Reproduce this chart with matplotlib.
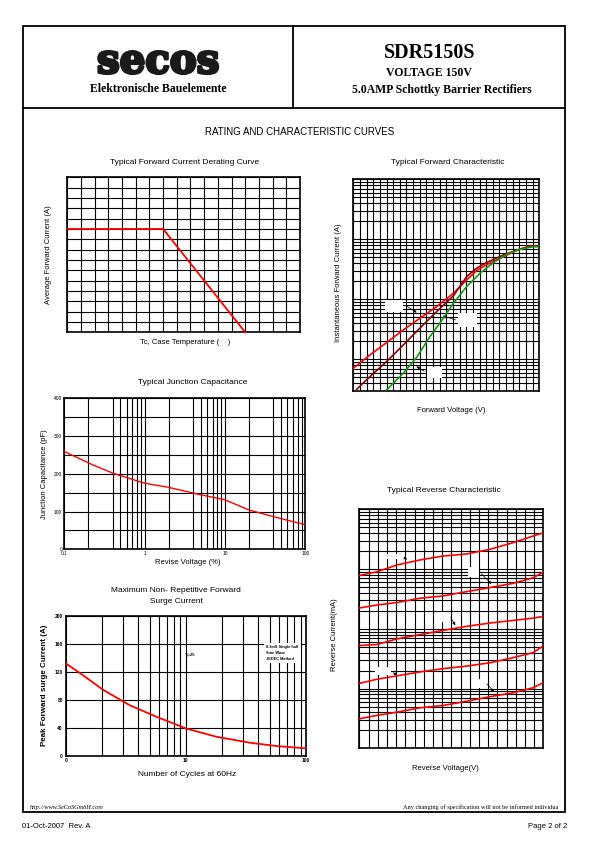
import numpy as np
import matplotlib
matplotlib.use("Agg")
import matplotlib.pyplot as plt
import matplotlib.patheffects as pe
from matplotlib.ticker import FixedLocator, NullFormatter, FixedFormatter, LogLocator
from matplotlib.patches import Rectangle

# ---- data ----
# derating curve (case temperature, average forward current)
derate_temp = [0, 70, 130]
derate_amp = [5.0, 5.0, 0.0]

# forward characteristic (forward voltage V, forward current A), three temperatures
fwd_v_hot = [0.0, 0.125, 0.25, 0.376, 0.50, 0.627, 0.753, 0.853, 0.928, 1.0, 1.13, 1.25, 1.33, 1.40]
fwd_i_hot = [0.071, 0.118, 0.19, 0.308, 0.482, 0.755, 1.26, 2.1, 3.0, 3.73, 5.14, 6.81, 7.74, 7.55]
fwd_v_mid = [0.025, 0.125, 0.25, 0.376, 0.50, 0.627, 0.753, 0.853, 0.928, 1.0, 1.13, 1.25, 1.355]
fwd_i_mid = [0.0316, 0.0514, 0.0914, 0.173, 0.329, 0.623, 1.14, 2.39, 3.29, 4.08, 5.48, 6.81, 7.74]
fwd_v_cold = [0.25, 0.376, 0.477, 0.577, 0.677, 0.753, 0.853, 0.953, 1.054, 1.154, 1.254, 1.355, 1.40]
fwd_i_cold = [0.0308, 0.0585, 0.108, 0.239, 0.482, 0.858, 1.63, 2.71, 4.08, 5.62, 6.81, 7.55, 7.55]

# junction capacitance (reverse voltage, pF)
cap_v = [0.1, 0.23, 0.41, 1.0, 2.0, 4.4, 10, 20, 41, 100]
cap_pf = [259, 223, 201, 175, 164, 147, 131, 104, 86, 65]

# surge current (cycles, A)
surge_n = [1, 1.315, 2.05, 3.42, 5.63, 10, 18, 34, 56.7, 100]
surge_a = [132, 118, 94, 72, 56, 39, 27, 18.6, 13.8, 10.5]

# reverse characteristic (reverse voltage, mA), five temperatures
rev_v = [0, 19, 41, 66, 91, 117, 142, 167, 189, 200]
rev_i = [
    [0.78, 0.9, 1.17, 1.42, 1.65, 1.79, 2.14, 2.76, 3.57, 4.05],
    [0.223, 0.25, 0.275, 0.325, 0.355, 0.42, 0.49, 0.575, 0.715, 0.89],
    [0.0525, 0.0545, 0.068, 0.08, 0.094, 0.11, 0.125, 0.138, 0.151, 0.161],
    [0.0122, 0.0143, 0.0163, 0.019, 0.0215, 0.0238, 0.027, 0.0328, 0.04, 0.0516],
    [0.00312, 0.00355, 0.00403, 0.00476, 0.0052, 0.00615, 0.0073, 0.0085, 0.0103, 0.0126],
]

W, H = 595, 842
SANS = "Liberation Sans"
SERIF = "Liberation Serif"

fig = plt.figure(figsize=(5.95, 8.42), dpi=100)

# page overlay in pixel coordinates
page = fig.add_axes([0, 0, 1, 1], zorder=-1)
page.set_xlim(0, W)
page.set_ylim(H, 0)
page.axis("off")

page.add_patch(Rectangle((22.7, 26), 565 - 22.7, 812 - 26, fill=False, lw=1.3, ec="black"))
page.plot([22.7, 565], [108, 108], color="black", lw=1.3)
page.plot([293.3, 293.3], [26, 108], color="black", lw=1.3)

logo = page.text(158, 62, "secos", fontsize=29, family="DejaVu Serif", weight="bold",
                 ha="center", va="center", color="#1a1a1a")
logo.set_path_effects([pe.withStroke(linewidth=2.2, foreground="#1a1a1a")])
page.text(158, 89, "Elektronische Bauelemente", fontsize=8.5, family=SERIF, weight="bold",
          ha="center", va="center")
page.text(430, 53, "SDR5150S", fontsize=14.5, family=SERIF, weight="bold", ha="center", va="center")
page.text(429, 73, "VOLTAGE 150V", fontsize=8.5, family=SERIF, weight="bold", ha="center", va="center")
page.text(442, 90, "5.0AMP Schottky Barrier Rectifiers", fontsize=8.5, family=SERIF, weight="bold",
          ha="center", va="center")

page.text(300, 132, "RATING AND CHARACTERISTIC CURVES", fontsize=7, family=SANS, ha="center", va="center")

page.text(30, 807, "http://www.SeCoSGmbH.com", fontsize=4.5, family=SERIF, style="italic", va="center")
page.text(558, 807, "Any changing of specification will not be informed individua", fontsize=4.5,
          family=SERIF, ha="right", va="center")
page.text(22, 827, "01-Oct-2007  Rev. A", fontsize=5.5, family=SANS, va="center")
page.text(567, 827, "Page 2 of 2", fontsize=5.5, family=SANS, ha="right", va="center")


def add_ax(l, t, r, b):
    ax = fig.add_axes([l / W, 1 - b / H, (r - l) / W, (b - t) / H])
    for s in ax.spines.values():
        s.set_linewidth(1.2)
    ax.tick_params(which="both", length=0)
    return ax


def grid_only(ax):
    ax.xaxis.set_major_formatter(NullFormatter())
    ax.yaxis.set_major_formatter(NullFormatter())
    ax.xaxis.set_minor_formatter(NullFormatter())
    ax.yaxis.set_minor_formatter(NullFormatter())
    ax.grid(True, which="both", color="black", lw=0.8)
    ax.set_axisbelow(True)


def label_box(ax, rect, box, arrow):
    # box/arrow given in page pixels, converted to axes fraction
    l, t, r, b = rect
    fx = lambda x: (x - l) / (r - l)
    fy = lambda y: (b - y) / (b - t)
    ax.add_patch(Rectangle((fx(box[0]), fy(box[3])), fx(box[2]) - fx(box[0]), fy(box[1]) - fy(box[3]),
                           transform=ax.transAxes, fc="white", ec="none", zorder=2))
    ax.annotate("", xy=(fx(arrow[2]), fy(arrow[3])), xytext=(fx(arrow[0]), fy(arrow[1])),
                xycoords="axes fraction", textcoords="axes fraction",
                arrowprops=dict(arrowstyle="-|>", color="black", lw=0.5, mutation_scale=4), zorder=3)


# ---- Typical Forward Current Derating Curve ----
r1 = (67.3, 177.3, 300, 332.3)
ax1 = add_ax(*r1)
ax1.set_xlim(0, 170)
ax1.set_ylim(0, 7.5)
ax1.xaxis.set_major_locator(FixedLocator(np.arange(0, 171, 10)))
ax1.yaxis.set_major_locator(FixedLocator(np.arange(0, 7.51, 0.5)))
grid_only(ax1)
ax1.plot(derate_temp, derate_amp, color="red", lw=1.3, zorder=4, clip_on=False)
page.text(185, 162, "Typical Forward Current Derating Curve", fontsize=6, family=SANS, ha="center", va="center")
page.text(185, 343, "Tc, Case Temperature (    )", fontsize=5.5, family=SANS, ha="center", va="center")
page.text(48, 255, "Average Forward Current (A)", fontsize=5.5, family=SANS, ha="center", va="center",
          rotation=90)

# ---- Typical Forward Characteristic ----
r2 = (353.3, 179.3, 539.3, 390.7)
ax2 = add_ax(*r2)
ax2.set_yscale("log")
ax2.set_xlim(0, 1.4)
ax2.set_ylim(0.03, 100)
ax2.xaxis.set_major_locator(FixedLocator(np.arange(0, 1.401, 0.05)))
ax2.yaxis.set_major_locator(LogLocator(base=10, subs=np.arange(1, 10), numticks=100))
ax2.yaxis.set_minor_locator(FixedLocator([]))
grid_only(ax2)
ax2.plot(fwd_v_hot, fwd_i_hot, color="red", lw=1.2, zorder=4)
ax2.plot(fwd_v_mid, fwd_i_mid, color="#8b0000", lw=1.2, zorder=4)
ax2.plot(fwd_v_cold, fwd_i_cold, color="#119911", lw=1.2, zorder=4)
label_box(ax2, r2, (385, 300, 403.3, 311.7), (403.3, 304, 419, 314))
label_box(ax2, r2, (458.3, 313.3, 476.7, 326.7), (458.3, 320.7, 440, 315))
label_box(ax2, r2, (426.7, 367.3, 441.7, 378.3), (426.7, 372.7, 414, 365))
page.text(448, 163, "Typical Forward Characteristic", fontsize=6, family=SANS, ha="center", va="center")
page.text(451, 410, "Forward Voltage (V)", fontsize=5.5, family=SANS, ha="center", va="center")
page.text(339, 283, "Instantaneous Forward Current (A)", fontsize=5.5, family=SANS, ha="center",
          va="center", rotation=90)

# ---- Typical Junction Capacitance ----
r3 = (64.3, 398.3, 305.3, 549.3)
ax3 = add_ax(*r3)
ax3.set_xscale("log")
ax3.set_xlim(0.1, 100)
ax3.set_ylim(0, 400)
ax3.xaxis.set_major_locator(FixedLocator([0.1, 1, 10, 100]))
ax3.xaxis.set_minor_locator(LogLocator(base=10, subs=[2, 4, 5, 6, 7, 8, 9], numticks=100))
ax3.xaxis.set_major_formatter(FixedFormatter(["0.1", "1", "10", "100"]))
ax3.xaxis.set_minor_formatter(NullFormatter())
ax3.yaxis.set_major_locator(FixedLocator(np.arange(0, 401, 50)))
ax3.yaxis.set_major_formatter(FixedFormatter(["0", "", "100", "", "200", "", "300", "", "400"]))
ax3.grid(True, which="both", color="black", lw=0.8)
ax3.set_axisbelow(True)
ax3.tick_params(labelsize=3.5, pad=1.5)
for lab in ax3.get_xticklabels() + ax3.get_yticklabels():
    lab.set_family(SANS)
ax3.plot(cap_v, cap_pf, color="red", lw=1.0, zorder=4)
page.text(193, 382, "Typical Junction Capacitance", fontsize=6, family=SANS, ha="center", va="center")
page.text(188, 563, "Revise Voltage (%)", fontsize=5.5, family=SANS, ha="center", va="center")
page.text(44, 474, "Junction Capacitance (pF)", fontsize=5.5, family=SANS, ha="center", va="center",
          rotation=90)

# ---- Maximum Non-Repetitive Forward Surge Current ----
r4 = (65.7, 615.7, 306, 755.7)
ax4 = add_ax(*r4)
ax4.set_xscale("log")
ax4.set_xlim(1, 100)
ax4.set_ylim(0, 200)
ax4.xaxis.set_major_locator(FixedLocator([1, 10, 100]))
ax4.xaxis.set_minor_locator(LogLocator(base=10, subs=np.arange(2, 10), numticks=100))
ax4.xaxis.set_major_formatter(FixedFormatter(["0", "10", "100"]))
ax4.xaxis.set_minor_formatter(NullFormatter())
ax4.yaxis.set_major_locator(FixedLocator(np.arange(0, 201, 40)))
ax4.grid(True, which="both", color="black", lw=0.8)
ax4.set_axisbelow(True)
ax4.tick_params(labelsize=3.5, pad=2)
for lab in ax4.get_xticklabels() + ax4.get_yticklabels():
    lab.set_family(SANS)
    lab.set_weight("bold")
ax4.plot(surge_n, surge_a, color="red", lw=1.3, zorder=4)
ax4.text(0.52, 0.72, "Tj=25", transform=ax4.transAxes, fontsize=3, family=SANS, weight="bold",
         ha="center", va="center")
ax4.text(0.835, 0.735, "8.3mS Single half\nSine Wave\nJEDEC Method", transform=ax4.transAxes,
         fontsize=2.8, family=SANS, weight="bold", ha="left", va="center", linespacing=1.6,
         bbox=dict(fc="white", ec="none", pad=1.5), zorder=3)
page.text(176, 590, "Maximum Non- Repetitive Forward", fontsize=6, family=SANS, ha="center", va="center")
page.text(176, 601.5, "Surge Current", fontsize=6, family=SANS, ha="center", va="center")
page.text(187, 774, "Number of Cycles at 60Hz", fontsize=6, family=SANS, ha="center", va="center")
page.text(44, 685, "Peak Forward surge Current (A)", fontsize=5.8, family=SANS, weight="bold",
          ha="center", va="center", rotation=90)

# ---- Typical Reverse Characteristic ----
r5 = (359.3, 509.3, 543.3, 748.3)
ax5 = add_ax(*r5)
ax5.set_yscale("log")
ax5.set_xlim(0, 200)
ax5.set_ylim(0.001, 10)
ax5.xaxis.set_major_locator(FixedLocator(np.arange(0, 201, 10)))
ax5.yaxis.set_major_locator(LogLocator(base=10, subs=np.arange(1, 10), numticks=100))
ax5.yaxis.set_minor_locator(FixedLocator([]))
grid_only(ax5)
for curve in rev_i:
    ax5.plot(rev_v, curve, color="red", lw=1.2, zorder=4)
label_box(ax5, r5, (383.3, 554, 402, 559.3), (402.7, 556.7, 409.3, 561))
label_box(ax5, r5, (468.3, 567.3, 479.3, 576.7), (479.3, 571.7, 493.3, 586))
label_box(ax5, r5, (435, 611.7, 449.3, 621.7), (449.3, 615, 456.7, 627.7))
label_box(ax5, r5, (375, 666.7, 391, 675), (391, 670.7, 399, 677.3))
label_box(ax5, r5, (471.7, 679.3, 485, 688.3), (485, 681.7, 496, 694))
page.text(444, 490, "Typical Reverse Characteristic", fontsize=6, family=SANS, ha="center", va="center")
page.text(445, 768, "Reverse Voltage(V)", fontsize=5.5, family=SANS, ha="center", va="center")
page.text(335, 635, "Reverse Current(mA)", fontsize=5.5, family=SANS, ha="center", va="center", rotation=90)

fig.savefig("out.png", dpi=100)
